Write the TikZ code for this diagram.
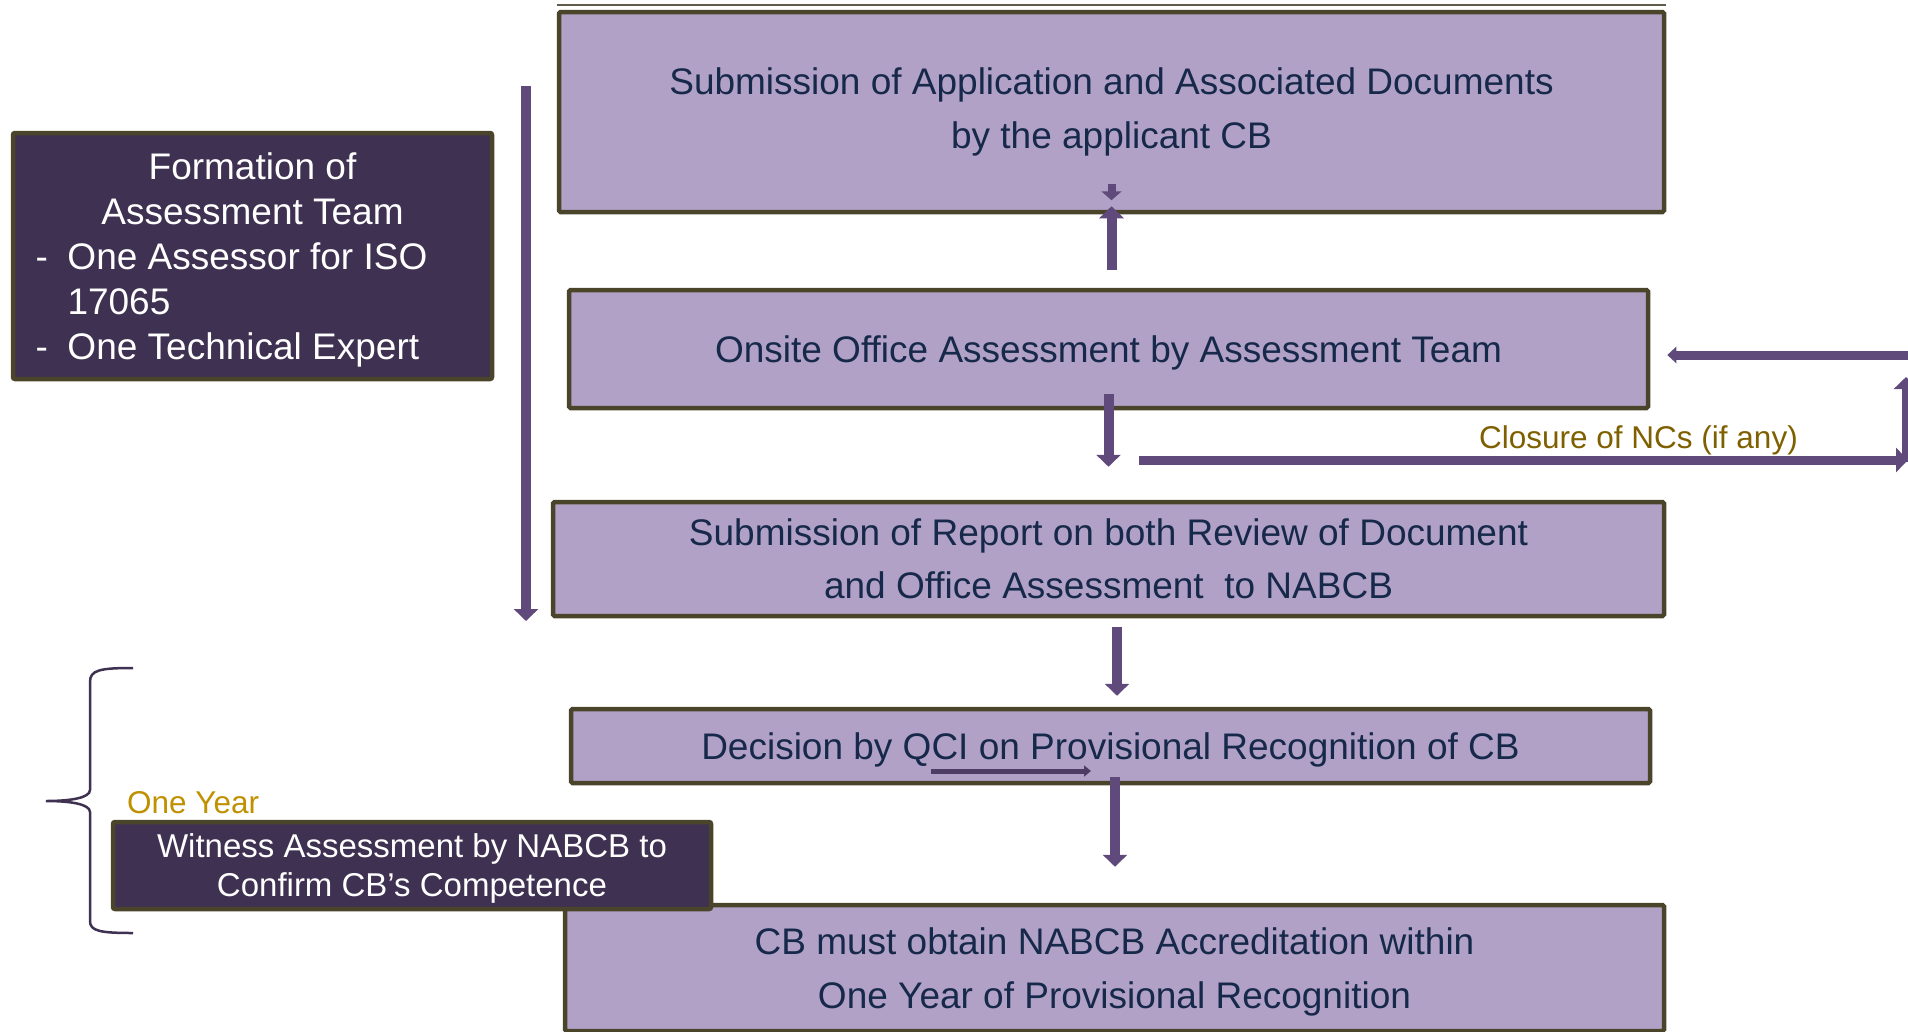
\documentclass[tikz,border=0pt]{standalone}
\usepackage{fontspec}
\setmainfont{Liberation Sans}
\usepackage{xcolor}
\usepackage{tikz}
\usetikzlibrary{arrows.meta}

\definecolor{stagefill}{HTML}{B2A1C7}
\definecolor{stageedge}{HTML}{4A442A}
\definecolor{stagetext}{HTML}{17294A}
\definecolor{darkfill}{HTML}{3F3151}
\definecolor{flowpurple}{HTML}{604A7B}
\definecolor{qcipurple}{HTML}{4F3C64}
\definecolor{ncbrown}{HTML}{7F6000}
\definecolor{yeargold}{HTML}{BF9000}

\newcommand{\stagefont}{\fontsize{37}{53.5}\selectfont}
\newcommand{\teamfont}{\fontsize{37}{45}\selectfont}
\newcommand{\witnessfont}{\fontsize{33}{39}\selectfont}
\newcommand{\notefont}{\fontsize{31.5}{37}\selectfont}

\begin{document}
\begin{tikzpicture}[x=1pt, y=-1pt,
    stage/.style = {draw=stageedge, line width=4.5pt, fill=stagefill, text=stagetext, font=\stagefont, align=center, inner sep=0pt, rounded corners=1.5pt},
    darkbox/.style = {draw=stageedge, line width=4.5pt, fill=darkfill, text=white, align=center, inner sep=0pt, rounded corners=2pt, text depth=0pt},
    flowarrow/.style = {draw=flowpurple, line width=10pt, -{Triangle[width=24pt,length=12pt]}},
    qciarrow/.style = {draw=qcipurple, line width=5pt, -{Triangle[width=11pt,length=7pt]}},
    note/.style = {anchor=base west, font=\notefont, inner sep=0pt}]
		\useasboundingbox (0,0) rectangle (1908,1031);
		
		\node[stage, minimum width=1105pt, minimum height=200pt] (apply) at (1111.5,112) {Submission of Application and Associated Documents\\by the applicant CB};
		\node[stage, text depth=0pt, minimum width=1079pt, minimum height=118pt] (onsite) at (1108.5,349) {Onsite Office Assessment by Assessment Team};
		\node[stage, minimum width=1111pt, minimum height=114pt] (report) at (1108.5,559) {Submission of Report on both Review of Document\\and Office Assessment\ \ to NABCB};
		\node[stage, text depth=0pt, minimum width=1079pt, minimum height=74pt] (decision) at (1110.5,746) {Decision by QCI on Provisional Recognition of CB};
		\node[stage, text depth=0pt, minimum width=1099pt, minimum height=126pt] (accredit) at (1114.5,968) {CB must obtain NABCB Accreditation within\\One Year of Provisional Recognition};
		
		\node[darkbox, font=\teamfont, minimum width=479pt, minimum height=246pt] (team) at (252.5,256) {Formation of\\Assessment Team\\\makebox[440pt][l]{\makebox[35pt][l]{\hspace{3pt}-}One Assessor for ISO}\\\makebox[440pt][l]{\hspace{35pt}17065}\\\makebox[440pt][l]{\makebox[35pt][l]{\hspace{3pt}-}One Technical Expert}};
		\node[darkbox, font=\witnessfont, minimum width=598pt, minimum height=87pt] (witness) at (412,865.5) {Witness Assessment by NABCB to\\Confirm CB’s Competence};
		
		\node[note, text=yeargold] (oneyear) at (127,813) {One Year};
		\node[note, text=ncbrown] (closure) at (1479,448) {Closure of NCs (if any)};
		
		\coordinate (teamtop) at (526,86);
		\coordinate (teambottom) at (526,621);
		\coordinate (ncleft) at (1139,460);
		\coordinate (ncright) at (1908,460);
		\coordinate (ncfoot) at (1906,462);
		\coordinate (nchead) at (1906,377);
		\coordinate (ncback) at (1910,355);
		
		\draw[color=stageedge!60!gray, line width=2.5pt] ([yshift=5pt]apply.north west) -- ([yshift=5pt]apply.north east);
		
		\draw[flowarrow, line width=8pt, -{Triangle[width=20pt,length=9pt]}] ([yshift=30pt]apply.south) -- ([yshift=14pt]apply.south);
		\draw[flowarrow] ([xshift=3pt, yshift=18pt]onsite.north) -- ([yshift=8pt]apply.south);
		\draw[flowarrow] ([yshift=16pt]onsite.south) -- ([yshift=33pt]report.north);
		\draw[flowarrow] ([xshift=8.5pt, yshift=-9pt]report.south) -- ([xshift=6.5pt, yshift=11pt]decision.north);
		\draw[flowarrow] ([xshift=4.5pt, yshift=8pt]decision.south) -- ([xshift=0.5pt, yshift=36pt]accredit.north);
		\draw[qciarrow] ([xshift=-179.5pt, yshift=-25pt]decision.center) -- ([xshift=-19.5pt, yshift=-25pt]decision.center);
		
		\draw[flowarrow] (teamtop) -- (teambottom);
		\draw[flowarrow, line width=9pt] (ncleft) -- (ncright);
		\draw[flowarrow, line width=8pt] (ncfoot) -- (nchead);
		\draw[flowarrow, line width=9pt, -{Triangle[width=16pt,length=9pt]}] (ncback) -- ([xshift=17pt, yshift=-6pt]onsite.east);
		
		\draw[draw=darkfill, line width=2.5pt] (133,668) .. controls (100,668) and (90,670) .. (90,682) -- (90,790) .. controls (90,798) and (70,801) .. (46,801) .. controls (70,801) and (90,804) .. (90,812) -- (90,921) .. controls (90,931) and (100,933) .. (133,933);
	\end{tikzpicture}
\end{document}
